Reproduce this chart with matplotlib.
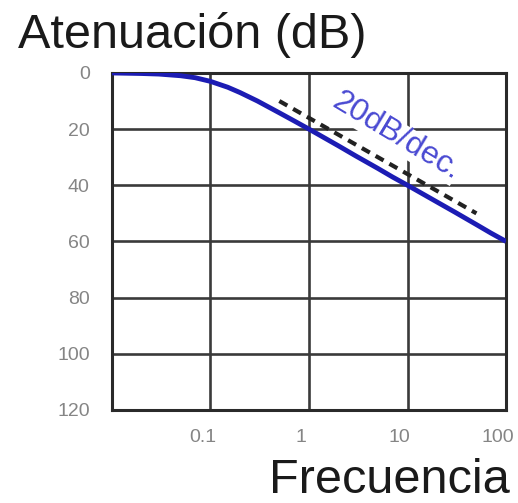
import matplotlib.pyplot as plt
import matplotlib.transforms as mtransforms

plt.rcParams["font.family"] = ["Liberation Sans", "DejaVu Sans"]

# curva de atenuacion
freq = [0.01, 0.02, 0.03, 0.05, 0.07, 0.1, 0.15, 0.2, 0.3, 0.5, 0.7,
        1, 2, 3, 5, 7, 10, 20, 30, 50, 70, 100]
aten = [0, 0.2, 0.4, 1.0, 1.7, 3.0, 5.1, 7.0, 10.0, 14.2, 17.0,
        20.0, 26.0, 29.6, 34.0, 37.0, 40.0, 46.0, 49.5, 54.0, 57.0, 60.0]

# asintota 20 dB/dec
asin_f = [0.5, 50]
asin_a = [10, 50]

xticks = [0.1, 1, 10, 100]
xtick_labels = ["0.1", "1", "10", "100"]
yticks = [0, 20, 40, 60, 80, 100, 120]

fig = plt.figure(figsize=(5.18, 5.03), dpi=100)
ax = fig.add_axes([0.216, 0.185, 0.761, 0.670])

ax.plot(freq, aten, color="#1c1cb4", lw=3.5, solid_capstyle="butt", zorder=3)
ax.plot(asin_f, asin_a, color="#222222", lw=3, ls=(0, (2.2, 1.6)), zorder=2)
ax.text(7.6, 22.5, "20dB/dec.", color="#4a4ad2", fontsize=23, rotation=-31,
        ha="center", va="center", rotation_mode="anchor", zorder=4,
        bbox=dict(boxstyle="square,pad=0", fc="white", ec="none"))

ax.set_xscale("log")
ax.set_xlim(0.01, 100)
ax.set_ylim(120, 0)
ax.set_xticks(xticks)
ax.set_xticklabels(xtick_labels)
ax.set_yticks(yticks)
ax.minorticks_off()
ax.tick_params(length=0, labelsize=14, labelcolor="#858585")
ax.tick_params(axis="y", pad=16)
ax.tick_params(axis="x", pad=14)
# etiquetas del eje x un poco a la izquierda de la rejilla
shift = mtransforms.ScaledTranslation(-8 / 100, 0, fig.dpi_scale_trans)
for lab in ax.get_xticklabels():
    lab.set_transform(lab.get_transform() + shift)
ax.grid(True, color="#3a3a3a", lw=1.9)
for s in ax.spines.values():
    s.set_linewidth(2.2)
    s.set_color("#2a2a2a")

fig.text(18 / 518, 1 - 48 / 503, "Atenuación (dB)", fontsize=35,
         color="#1a1a1a", va="baseline", ha="left")
fig.text(510 / 518, 1 - 493 / 503, "Frecuencia", fontsize=35,
         color="#1a1a1a", va="baseline", ha="right")

fig.savefig("out.png", dpi=100)
